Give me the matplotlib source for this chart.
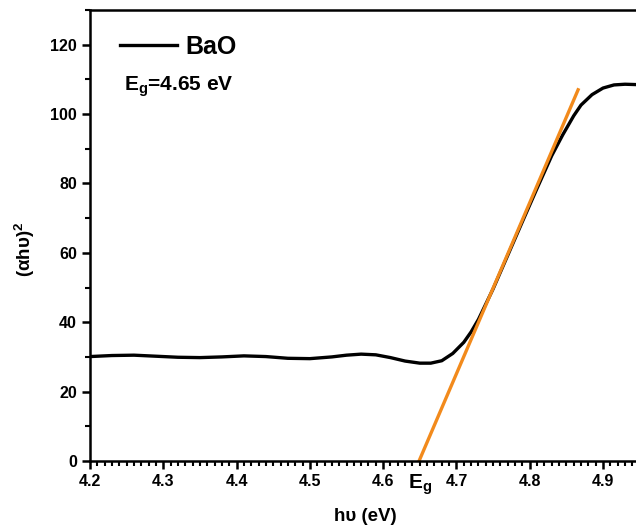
import matplotlib
matplotlib.use("Agg")
import matplotlib.pyplot as plt
import numpy as np
from matplotlib.ticker import MultipleLocator

plt.rcParams["font.family"] = ["Liberation Sans", "DejaVu Sans"]
plt.rcParams["font.weight"] = "bold"
plt.rcParams["mathtext.fontset"] = "custom"
plt.rcParams["mathtext.rm"] = "Liberation Sans:bold"
plt.rcParams["mathtext.default"] = "rm"

# absorption curve
energy = [4.20, 4.23, 4.26, 4.29, 4.32, 4.35, 4.38, 4.41, 4.44, 4.47, 4.50, 4.53,
          4.55, 4.57, 4.59, 4.61, 4.63, 4.65, 4.665, 4.68, 4.695, 4.71, 4.72, 4.73,
          4.75, 4.77, 4.79, 4.81, 4.83, 4.845, 4.86, 4.87, 4.885, 4.90, 4.915,
          4.93, 4.945]
alpha_hv2 = [30.1, 30.4, 30.5, 30.2, 29.9, 29.8, 30.0, 30.3, 30.1, 29.6, 29.5, 30.0,
             30.5, 30.8, 30.6, 29.8, 28.8, 28.2, 28.2, 28.9, 31.0, 34.2, 37.2, 40.8,
             49.6, 59.3, 69.0, 78.6, 88.0, 94.0, 99.5, 102.6, 105.6, 107.5, 108.4,
             108.6, 108.5]

# tangent line used for the band gap
fit_x = [4.649, 4.866]
fit_y = [0.0, 107.0]
eg_value = 4.65

fig = plt.figure(figsize=(6.36, 5.26), dpi=100)
ax = fig.add_axes([0.1415, 0.1236, 0.8585, 0.8574])

ax.plot(energy, alpha_hv2, color="black", lw=2.4, label="BaO")
ax.plot(fit_x, fit_y, color="#F28A1C", lw=2.4)

ax.set_xlim(4.2, 4.945)
ax.set_ylim(0, 130)
ax.xaxis.set_major_locator(MultipleLocator(0.1))
ax.xaxis.set_minor_locator(MultipleLocator(0.01))
ax.yaxis.set_minor_locator(MultipleLocator(10))
ax.set_yticks(np.arange(0, 121, 20))
ax.tick_params(which="major", direction="out", length=6, width=1.8, labelsize=11.5)
ax.tick_params(which="minor", direction="out", length=3.5, width=1.5)
ax.spines["right"].set_visible(False)
for s in ["left", "bottom", "top"]:
    ax.spines[s].set_linewidth(1.8)

ax.set_xlabel("h\u03c5 (eV)", fontsize=13.5, fontweight="bold")
ax.xaxis.set_label_coords(0.505, -0.105)
ax.set_ylabel("(\u03b1h\u03c5)$^{2}$", fontsize=13.5, fontweight="bold")
ax.yaxis.set_label_coords(-0.097, 0.47)

ax.text(eg_value, -3.3, "E$_{g}$", fontsize=15, fontweight="bold",
        ha="center", va="top")

ax.legend(loc="upper left", bbox_to_anchor=(0.013, 0.995), frameon=False,
          handlelength=2.3, handletextpad=0.35,
          prop={"weight": "bold", "size": 18})
ax.text(0.062, 0.83, "E$_{g}$=4.65 eV", transform=ax.transAxes,
        fontsize=15, fontweight="bold", va="center")

fig.savefig("out.png", dpi=100)
